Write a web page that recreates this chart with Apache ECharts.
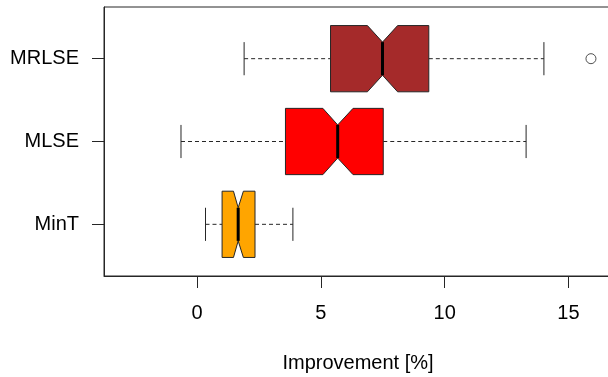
<!DOCTYPE html>
<html>
<head>
<meta charset="utf-8">
<script src="https://cdn.jsdelivr.net/npm/echarts@6/dist/echarts.min.js"></script>
<style>html,body{margin:0;padding:0;background:#fff}#c{width:608px;height:377px}</style>
</head>
<body>
<div id="c"></div>
<script>
// Categories bottom-to-top
var categories = ['MinT', 'MLSE', 'MRLSE'];
var whiskerLow  = [0.34, -0.65, 1.90];
var q1          = [1.01,  3.57, 5.39];
var median      = [1.66,  5.68, 7.49];
var q3          = [2.34,  7.52, 9.36];
var whiskerHigh = [3.87, 13.29, 14.01];
var notchLow    = [1.47,  5.08, 6.88];
var notchHigh   = [1.87,  6.30, 8.10];
var fillColors  = ['#FFA500', '#FF0000', '#A52A2A'];
var outlierValues = [15.91];
var outlierCategory = ['MRLSE'];
var xTicks = [0, 5, 10, 15];
var xTitle = 'Improvement [%]';

var boxData = categories.map(function (c, i) {
  return [i + 1, whiskerLow[i], q1[i], median[i], q3[i], whiskerHigh[i], notchLow[i], notchHigh[i]];
});
var outlierData = outlierValues.map(function (v, i) {
  return [v, categories.indexOf(outlierCategory[i]) + 1];
});

var FONT = '"Liberation Sans", Arial, sans-serif';
var LINE = '#262626';

function renderBox(params, api) {
  var pos = api.value(0);
  var wl = api.value(1), a = api.value(2), m = api.value(3), b = api.value(4), wh = api.value(5), nl = api.value(6), nh = api.value(7);
  var c = api.coord([0, pos])[1];
  var h = api.size([0, 0.4])[1];
  var X = function (v) { return api.coord([v, pos])[0]; };
  var top = c - h, bot = c + h;
  var pts = [
    [X(a), top], [X(nl), top], [X(m), c - h / 2], [X(nh), top], [X(b), top],
    [X(b), bot], [X(nh), bot], [X(m), c + h / 2], [X(nl), bot], [X(a), bot]
  ];
  var idx = params.dataIndex;
  var dash = { stroke: LINE, lineWidth: 1, lineDash: [4, 3] };
  var solid = { stroke: LINE, lineWidth: 1 };
  return {
    type: 'group',
    children: [
      { type: 'line', shape: { x1: X(wl), y1: c, x2: X(a), y2: c }, style: dash },
      { type: 'line', shape: { x1: X(b), y1: c, x2: X(wh), y2: c }, style: dash },
      { type: 'line', shape: { x1: X(wl), y1: c - h / 2, x2: X(wl), y2: c + h / 2 }, style: solid },
      { type: 'line', shape: { x1: X(wh), y1: c - h / 2, x2: X(wh), y2: c + h / 2 }, style: solid },
      { type: 'polygon', shape: { points: pts }, style: { fill: fillColors[idx], stroke: LINE, lineWidth: 1 } },
      { type: 'line', shape: { x1: X(m), y1: c - h / 2, x2: X(m), y2: c + h / 2 }, style: { stroke: '#000', lineWidth: 3 } }
    ]
  };
}

var chart = echarts.init(document.getElementById('c'), null, { renderer: 'canvas' });
chart.setOption({
  animation: false,
  backgroundColor: '#fff',
  grid: { left: 104, top: 7, width: 508, bottom: 101, outerBoundsMode: 'none', containLabel: false,
          show: true, borderColor: LINE, borderWidth: 1, backgroundColor: 'transparent' },
  xAxis: {
    type: 'value', min: -3.76, max: 16.76,
    axisLine: { show: true, onZero: false, lineStyle: { color: LINE, width: 1 } },
    axisTick: { show: true, length: 12, customValues: xTicks, lineStyle: { color: LINE } },
    axisLabel: { customValues: xTicks, margin: 27, fontSize: 20, lineHeight: 20, color: '#000', fontFamily: FONT },
    splitLine: { show: false },
    name: xTitle, nameLocation: 'middle', nameGap: 77,
    nameTextStyle: { fontSize: 20, lineHeight: 20, color: '#000', fontFamily: FONT }
  },
  yAxis: {
    type: 'value', min: 0.376, max: 3.624,
    axisLine: { show: true, onZero: false, lineStyle: { color: LINE, width: 1 } },
    axisTick: { show: true, length: 12, customValues: [1, 2, 3], lineStyle: { color: LINE } },
    axisLabel: {
      customValues: [1, 2, 3], margin: 25, fontSize: 20, color: '#000', fontFamily: FONT,
      formatter: function (v) { return categories[Math.round(v) - 1] || ''; }
    },
    splitLine: { show: false }
  },
  series: [
    { type: 'custom', renderItem: renderBox, data: boxData, encode: { x: [1, 5], y: 0 }, clip: false },
    { type: 'scatter', data: outlierData, symbol: 'circle', symbolSize: 10,
      itemStyle: { color: '#fff', borderColor: LINE, borderWidth: 1 } }
  ]
});
</script>
</body>
</html>
